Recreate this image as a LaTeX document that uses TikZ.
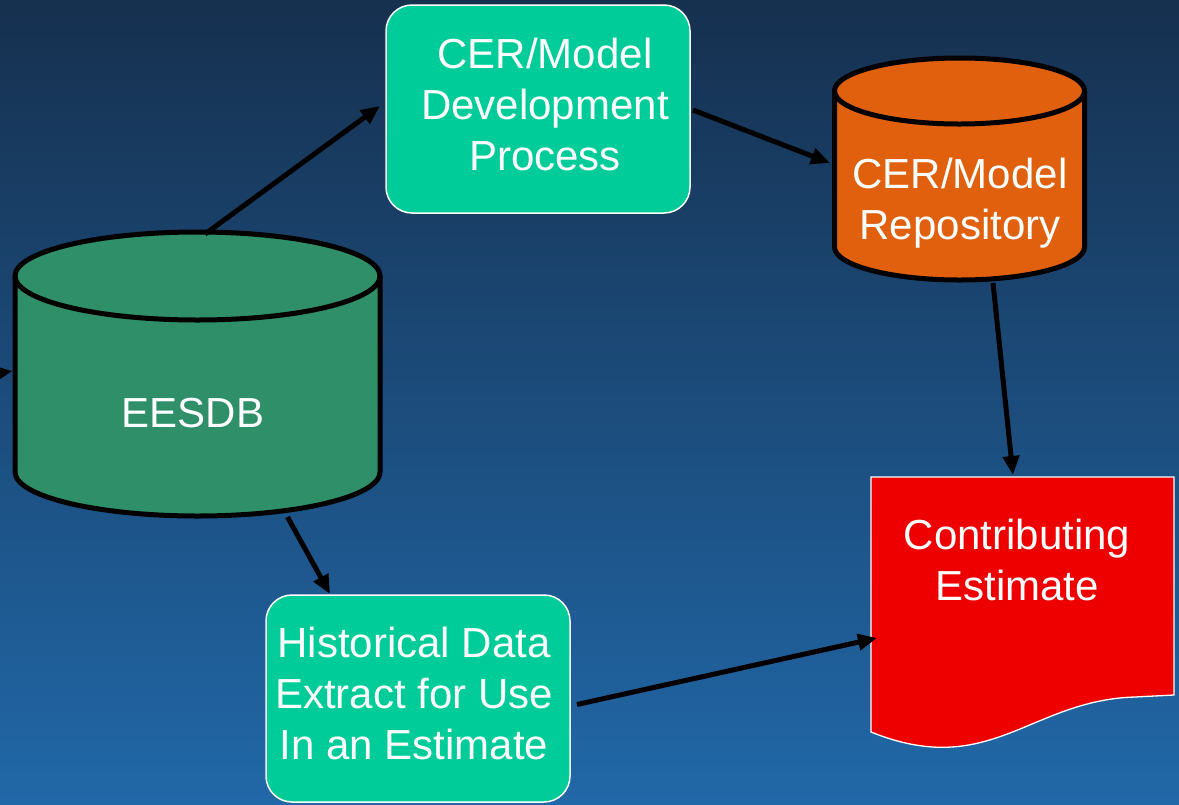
\documentclass[tikz,border=0pt]{standalone}
\usepackage{fontspec}
\setmainfont{Liberation Sans}
\usetikzlibrary{arrows.meta}
\definecolor{bgtop}{RGB}{22,48,79}
\definecolor{bgbot}{RGB}{33,104,168}
\definecolor{procgreen}{RGB}{0,204,153}
\definecolor{dbgreen}{RGB}{46,143,104}
\definecolor{repoorange}{RGB}{224,96,14}
\definecolor{docred}{RGB}{238,0,0}
\tikzset{
  label/.style={text=white, align=center, font=\fontsize{42}{51}\selectfont, inner sep=0pt},
  procbox/.style={fill=procgreen, draw=white, line width=1.5pt, rounded corners=26pt},
  dbshape/.style={draw=black, line width=5pt},
  frame/.style={inner sep=0pt, outer sep=0pt},
  flow/.style={draw=black, line width=5pt, -{Triangle[length=19pt,width=16pt]}},
}
\begin{document}
\begin{tikzpicture}[x=1pt,y=1pt]
\useasboundingbox (0,0) rectangle (1179,-804);
% backdrop
\shade[top color=bgtop, bottom color=bgbot] (0,0) rectangle (1179,-804);

% EESDB cylinder
\fill[dbgreen] (15,-276) -- (15,-472) arc (180:360:182.5 and 44) -- (380,-276) arc (0:180:182.5 and 44) -- cycle;
\draw[dbshape] (15,-276) -- (15,-472) arc (180:360:182.5 and 44) -- (380,-276);
\draw[dbshape] (197.5,-276) ellipse (182.5 and 44);
\node[frame, minimum width=370pt, minimum height=284pt] (eesdb) at (197.5,-374) {};
\node[label] (eesdbtext) at (193,-413) {EESDB};

% CER/Model repository cylinder
\fill[repoorange] (834.5,-91) -- (834.5,-247) arc (180:360:125 and 33) -- (1084.5,-91) arc (0:180:125 and 33) -- cycle;
\draw[dbshape] (834.5,-91) -- (834.5,-247) arc (180:360:125 and 33) -- (1084.5,-91);
\draw[dbshape] (959.5,-91) ellipse (125 and 33);
\node[frame, minimum width=255pt, minimum height=222pt] (repo) at (959.5,-169) {};
\node[label] (repotext) at (960,-203) {CER/Model\\Repository};

% process boxes
\draw[procbox] (386,-5) rectangle (690,-213);
\node[frame, minimum width=304pt, minimum height=208pt] (dev) at (538,-109) {};
\node[label] (devtext) at (545,-104) {CER/Model\\Development\\Process};

\draw[procbox] (266,-595) rectangle (570,-802);
\node[frame, minimum width=304pt, minimum height=207pt] (hist) at (418,-698.5) {};
\node[label] (histtext) at (414,-693) {Historical Data\\Extract for Use\\In an Estimate};

% contributing estimate document
\draw[fill=docred, draw=white, line width=1.3pt]
  (871,-477) -- (1174,-477) -- (1174,-695) -- (1135,-697)
  .. controls (1030,-700) and (990,-780) .. (871,-732) -- cycle;
\node[frame, minimum width=303pt, minimum height=272pt] (est) at (1022.5,-613) {};
\node[label] (esttext) at (1017,-560) {Contributing\\Estimate};

% flows
\coordinate (feed) at (-60,-382);
\draw[flow] (feed) -- ([yshift=3pt]eesdb.west);
\draw[flow] ([xshift=7.5pt,yshift=-2pt]eesdb.north) -- ([xshift=-6pt,yshift=3pt]dev.west);
\draw[flow] ([xshift=3pt,yshift=-1pt]dev.east) -- ([xshift=-2pt,yshift=6pt]repo.west);
\draw[flow] ([xshift=33.5pt,yshift=-3pt]repo.south) -- ([xshift=-9.5pt,yshift=2pt]est.north);
\draw[flow] ([xshift=90pt,yshift=-1pt]eesdb.south) -- ([xshift=-88pt,yshift=1pt]hist.north);
\draw[flow] ([xshift=7pt,yshift=-6pt]hist.east) -- ([xshift=6pt,yshift=-25pt]est.west);
\end{tikzpicture}
\end{document}
